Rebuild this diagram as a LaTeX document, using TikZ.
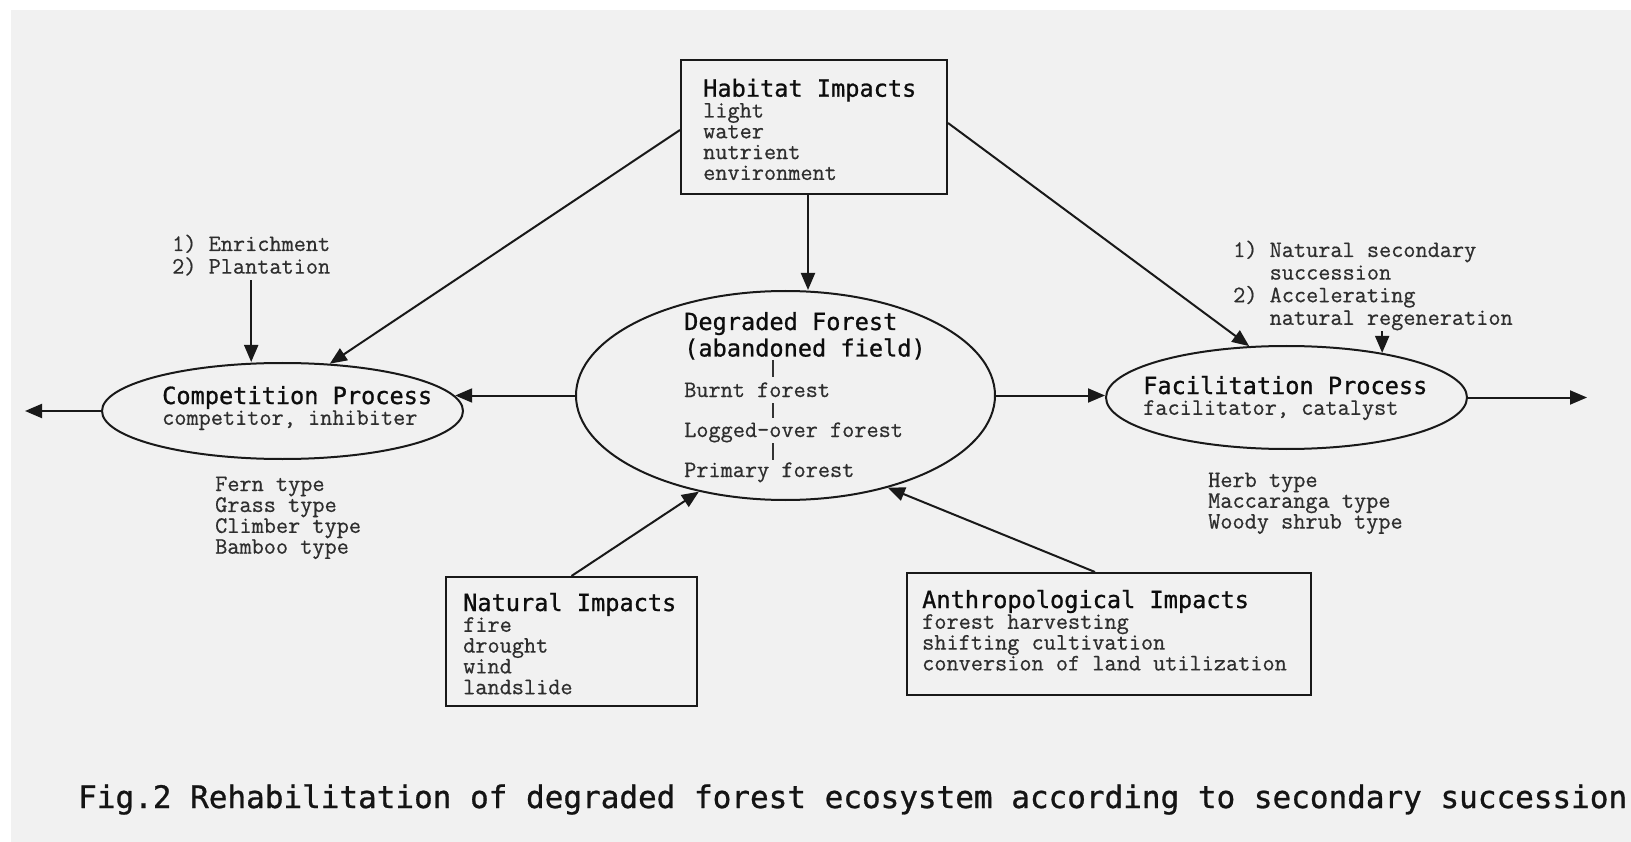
\documentclass[tikz,border=0pt]{standalone}
\usepackage{fontspec}
\usetikzlibrary{arrows.meta,shapes.geometric}
\newfontfamily\headfont[FakeBold=0.9]{DejaVu Sans Mono}
\newfontfamily\bodyfont[FakeBold=0.6]{Latin Modern Mono}
\newcommand{\bodysize}{\bodyfont\fontsize{23.6}{20.8}\selectfont}
\newcommand{\hd}[1]{{\headfont\fontsize{23.6}{20.8}\selectfont\color{black!95}#1}}
\newcommand{\lns}[1]{\begin{tabular}[t]{@{}l@{}}#1\end{tabular}}
\definecolor{paper}{HTML}{F1F1F1}
\begin{document}
\begin{tikzpicture}[x=1pt,y=-1pt,
  ln/.style={line width=2pt,draw=black!90},
  boxnode/.style={ln,rectangle,inner sep=0pt},
  ell/.style={ln,ellipse,inner sep=0pt},
  txt/.style={inner sep=0pt,anchor=base west,text=black!82,font=\bodysize},
  arr/.style={line width=2pt,draw=black!90,-{Triangle[length=17pt,width=14pt]}},
  bar/.style={line width=1.6pt,draw=black!80}]
\useasboundingbox (0,0) rectangle (1631,842);
\fill[white] (0,0) rectangle (1631,842);
\fill[paper] (11,10) rectangle (1631,842);

% boxes and ellipses
\node[boxnode,minimum width=266pt,minimum height=134pt] (hab) at (814,127) {};
\node[boxnode,minimum width=251pt,minimum height=129pt] (nat) at (571.5,641.5) {};
\node[boxnode,minimum width=404pt,minimum height=122pt] (ant) at (1109,634) {};
\node[ell,minimum width=419pt,minimum height=209pt] (deg) at (785.5,395.5) {};
\node[ell,minimum width=361pt,minimum height=96pt] (comp) at (282.5,411) {};
\node[ell,minimum width=361pt,minimum height=103pt] (fac) at (1286.5,397.5) {};

% texts
\node[txt] (habt) at (703,96.7) {\lns{\hd{Habitat Impacts}\\light\\water\\nutrient\\environment}};
\node[txt] (natt) at (463,611) {\lns{\hd{Natural Impacts}\\fire\\drought\\wind\\landslide}};
\node[txt] (antt) at (922,608) {\lns{\hd{Anthropological Impacts}\\forest harvesting\\shifting cultivation\\conversion of land utilization}};
\node[txt] (compt) at (162,404) {\lns{\hd{Competition Process}\\competitor, inhibiter}};
\node[txt] (fact) at (1143,394) {\lns{\hd{Facilitation Process}\\facilitator, catalyst}};
\node[txt] (degh) at (684,330) {\lns{\hd{Degraded Forest}\\[2.2pt]\hd{(abandoned field)}}};
\node[txt,font=\bodyfont\fontsize{23.6}{40}\selectfont] (degl) at (684,397) {\lns{Burnt forest\\Logged-over forest\\Primary forest}};
\node[txt] (enr) at (172,251) {\lns{1) Enrichment\\2) Plantation}};
\node[txt] (nsl) at (1233,257) {\lns{1) Natural secondary\\\phantom{1) }succession\\2) Accelerating\\\phantom{2) }natural regeneration}};
\node[txt] (fern) at (215,491) {\lns{Fern type\\Grass type\\Climber type\\Bamboo type}};
\node[txt] (herb) at (1208,487) {\lns{Herb type\\Maccaranga type\\Woody shrub type}};
\node[inner sep=0pt,anchor=base west,font=\headfont\fontsize{31}{36}\selectfont,text=black!92] (cap) at (78,808) {Fig.2 Rehabilitation of degraded forest ecosystem according to secondary succession};

% succession bars inside the degraded forest ellipse
\draw[bar] (773,360) -- (773,377);
\draw[bar] (773,403) -- (773,418);
\draw[bar] (773,443) -- (773,460);

% free ends
\coordinate (outL) at (25,411);
\coordinate (outR) at (1587,397.5);

% connectors
\draw[arr] ([yshift=-3pt]hab.west) -- (comp.45);
\draw[arr] ([yshift=4pt]hab.east) -- (fac.126.6);
\draw[arr] ([xshift=-6pt]hab.south) -- ([xshift=-6pt]hab.south |- deg.north);
\draw[arr] (deg.west) -- (deg.west -| comp.5);
\draw[arr] (deg.east) -- (deg.east -| fac.west);
\draw[arr] (comp.west) -- (outL);
\draw[arr] (fac.east) -- (outR);
\draw[arr] (enr.south) -- (enr.south |- comp.north);
\draw[arr] (nsl.south -| fac.25.5) -- (fac.25.5);
\draw[arr] (nat.north) -- (deg.228);
\draw[arr] ([xshift=-14pt]ant.north) -- (deg.318.5);
\end{tikzpicture}
\end{document}
